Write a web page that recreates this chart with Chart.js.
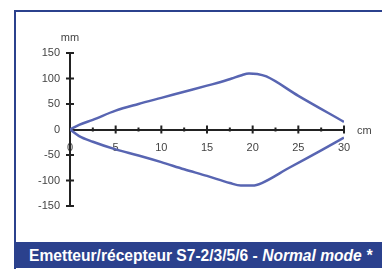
<!DOCTYPE html>
<html>
<head>
<meta charset="utf-8">
<script src="https://cdn.jsdelivr.net/npm/chart.js@4"></script>
<style>
  body { margin: 0; background: #fff; }
  #wrap { position: relative; width: 382px; height: 269px; overflow: hidden; font-family: "Liberation Sans", Arial, sans-serif; }
  #frame { position: absolute; left: 14px; top: 10px; width: 370px; height: 258px; border-left: 2px solid #2B418D; border-top: 2px solid #2B418D; }
  #banner { position: absolute; left: 14px; top: 242px; width: 370px; height: 26px; background: #2B418D; color: #fff;
    font-weight: bold; font-size: 15.6px; line-height: 27px; padding-left: 15px; box-sizing: border-box; white-space: nowrap; }
  #chart { position: absolute; left: 17px; top: 12px; }
</style>
</head>
<body>
<div id="wrap">
  <div id="frame"></div>
  <canvas id="chart" width="365" height="229"></canvas>
  <div id="banner">Emetteur/récepteur S7-2/3/5/6 - <i>Normal mode *</i></div>
</div>
<script>
// faisceau : demi-enveloppe haute et basse
const upperCm = [0, 1, 2.5, 5, 7.5, 10, 12.5, 15, 16.5, 17.7, 18.7, 19.6, 20.5, 21.5, 25, 30];
const upperMm = [0, 9, 19, 37, 50, 62, 74, 86, 93, 100, 106, 110, 109, 104, 66, 15];
const lowerCm = [0, 1, 2.5, 5, 7.5, 10, 12.5, 15, 17.5, 18.7, 20, 21, 24, 27.5, 30];
const lowerMm = [0, -13, -24, -39, -51, -64, -78, -91, -105, -110, -110, -105, -75, -41, -16];

const xMin = 0, xMax = 30, xStep = 5;
const yMin = -150, yMax = 150, yStep = 50;
const xUnit = 'cm', yUnit = 'mm';

const lineColor = '#5865B2';
const axisColor = '#222';
const labelColor = '#444';

function pts(xs, ys) { return xs.map((x, i) => ({ x: x, y: ys[i] })); }

// ticks qui traversent les axes + unites
const crossTicks = {
  id: 'crossTicks',
  afterDraw(chart) {
    const ctx = chart.ctx;
    const xs = chart.scales.x, ys = chart.scales.y;
    const x0 = xs.getPixelForValue(0), y0 = ys.getPixelForValue(0);
    ctx.save();
    ctx.strokeStyle = axisColor;
    ctx.lineWidth = 2;
    ctx.beginPath();
    ys.ticks.forEach(t => {
      if (t.value === 0) return;
      const p = ys.getPixelForValue(t.value);
      ctx.moveTo(x0 - 4, p); ctx.lineTo(x0 + 4, p);
    });
    xs.ticks.forEach((t, i) => {
      if (t.value !== 0) {
        const p = xs.getPixelForValue(t.value);
        ctx.moveTo(p, y0 - 4); ctx.lineTo(p, y0 + 4);
      }
      if (i > 0) {
        const m = xs.getPixelForValue((t.value + xs.ticks[i - 1].value) / 2);
        ctx.moveTo(m, y0 - 2); ctx.lineTo(m, y0 + 2);
      }
    });
    ctx.stroke();
    ctx.fillStyle = labelColor;
    ctx.font = '11px "Liberation Sans", Arial, sans-serif';
    ctx.textAlign = 'center';
    ctx.textBaseline = 'middle';
    ctx.fillText(yUnit, x0, ys.getPixelForValue(yMax) - 15);
    ctx.textAlign = 'left';
    ctx.fillText(xUnit, xs.getPixelForValue(xMax) + 13, y0 + 1);
    ctx.restore();
  }
};

new Chart(document.getElementById('chart'), {
  type: 'line',
  data: {
    datasets: [
      { data: pts(upperCm, upperMm), borderColor: lineColor, borderWidth: 2.5, pointRadius: 0, cubicInterpolationMode: 'monotone', fill: false },
      { data: pts(lowerCm, lowerMm), borderColor: lineColor, borderWidth: 2.5, pointRadius: 0, cubicInterpolationMode: 'monotone', fill: false }
    ]
  },
  options: {
    responsive: false,
    animation: false,
    layout: { padding: { left: 13, right: 38, top: 41, bottom: 35 } },
    plugins: { legend: { display: false }, tooltip: { enabled: false } },
    scales: {
      x: {
        type: 'linear', min: xMin, max: xMax,
        position: { y: 0 },
        grid: { display: true, drawOnChartArea: false, drawTicks: false },
        border: { display: true, color: axisColor, width: 2 },
        ticks: { stepSize: xStep, padding: 12, color: labelColor, maxRotation: 0,
          font: { family: '"Liberation Sans", Arial, sans-serif', size: 11 } }
      },
      y: {
        type: 'linear', min: yMin, max: yMax,
        position: 'left',
        afterFit(scale) { scale.width = 40; },
        grid: { display: true, drawOnChartArea: false, drawTicks: false },
        border: { display: true, color: axisColor, width: 2 },
        ticks: { stepSize: yStep, padding: 10, color: labelColor,
          font: { family: '"Liberation Sans", Arial, sans-serif', size: 11 } }
      }
    }
  },
  plugins: [crossTicks]
});
</script>
</body>
</html>
